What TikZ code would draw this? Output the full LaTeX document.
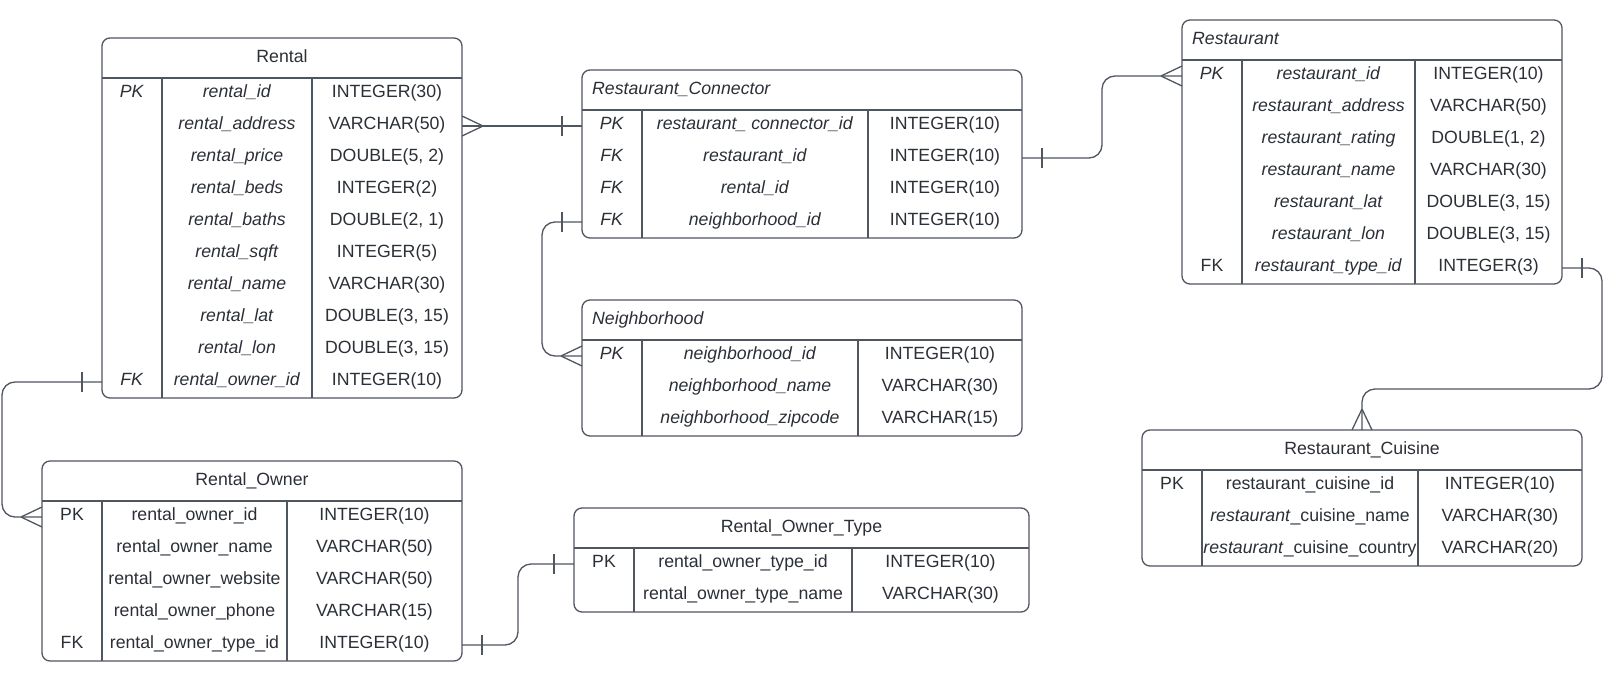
\documentclass[tikz,border=0pt]{standalone}
\usepackage{fontspec}
\setmainfont{Liberation Sans}
\definecolor{lc}{HTML}{50565F}
\definecolor{tc}{HTML}{2B2F36}
\tikzset{
  tbl/.style={draw=lc, line width=1.3pt, rounded corners=8pt, rectangle, inner sep=0pt, outer sep=0pt, anchor=north west},
  tline/.style={draw=lc, line width=1.3pt},
  conn/.style={draw=lc, line width=1.3pt},
  elbow/.style={conn, rounded corners=13pt},
  cell/.style={anchor=base, inner sep=0pt, text=tc, font=\fontsize{17.7}{20}\selectfont},
  ttlw/.style={cell, anchor=base west},
}
% #1 name, #2 key x, #3 name x, #4 type x, #5 header-line y, #6 rows
\newcommand\ERrows[6]{%
  \foreach \k/\n/\t [count=\i from 0] in {#6} {
    \coordinate (#1-row\i) at (#3, #5+16+32*\i);
    \node[cell] (#1-k\i) at (#2, #5+19.5+32*\i) {\k};
    \node[cell] (#1-n\i) at (#3, #5+19.5+32*\i) {\n};
    \node[cell] (#1-t\i) at (#4, #5+19.5+32*\i) {\t};
  }}
\newcommand\crowR[1]{\draw[conn] (#1) ++(21,0) -- ++(-21,-10) (#1) ++(21,0) -- ++(-21,10);}
\newcommand\crowL[1]{\draw[conn] (#1) ++(-21,0) -- ++(21,-10) (#1) ++(-21,0) -- ++(21,10);}
\newcommand\crowU[1]{\draw[conn] (#1) ++(0,-21) -- ++(-10,21) (#1) ++(0,-21) -- ++(10,21);}
\newcommand\barR[1]{\draw[conn] (#1) ++(20,-10) -- ++(0,20);}
\newcommand\barL[1]{\draw[conn] (#1) ++(-20,-10) -- ++(0,20);}
\begin{document}
\begin{tikzpicture}[x=1pt,y=-1pt]
\useasboundingbox (0,0) rectangle (1604,680);

% ---------- Rental ----------
\node[tbl, minimum width=360pt, minimum height=360pt] (rental) at (102,38) {};
\draw[tline] (102,78) -- (462,78);
\draw[tline] (162,78) -- (162,398);
\draw[tline] (312,78) -- (312,398);
\node[cell] (rental-title) at (282,62) {Rental};
\ERrows{rental}{132}{237}{387}{78}{
 {\textit{PK}}/{\textit{rental\_id}}/{INTEGER(30)},
 {}/{\textit{rental\_address}}/{VARCHAR(50)},
 {}/{\textit{rental\_price}}/{DOUBLE(5, 2)},
 {}/{\textit{rental\_beds}}/{INTEGER(2)},
 {}/{\textit{rental\_baths}}/{DOUBLE(2, 1)},
 {}/{\textit{rental\_sqft}}/{INTEGER(5)},
 {}/{\textit{rental\_name}}/{VARCHAR(30)},
 {}/{\textit{rental\_lat}}/{DOUBLE(3, 15)},
 {}/{\textit{rental\_lon}}/{DOUBLE(3, 15)},
 {\textit{FK}}/{\textit{rental\_owner\_id}}/{INTEGER(10)}}

% ---------- Rental_Owner ----------
\node[tbl, minimum width=420pt, minimum height=200pt] (rowner) at (42,461) {};
\draw[tline] (42,501) -- (462,501);
\draw[tline] (102,501) -- (102,661);
\draw[tline] (287,501) -- (287,661);
\node[cell] (rowner-title) at (252,485) {Rental\_Owner};
\ERrows{rowner}{72}{194.5}{374.5}{501}{
 {PK}/{rental\_owner\_id}/{INTEGER(10)},
 {}/{rental\_owner\_name}/{VARCHAR(50)},
 {}/{rental\_owner\_website}/{VARCHAR(50)},
 {}/{rental\_owner\_phone}/{VARCHAR(15)},
 {FK}/{rental\_owner\_type\_id}/{INTEGER(10)}}

% ---------- Restaurant_Connector ----------
\node[tbl, minimum width=440pt, minimum height=168pt] (rconn) at (582,70) {};
\draw[tline] (582,110) -- (1022,110);
\draw[tline] (642,110) -- (642,238);
\draw[tline] (868,110) -- (868,238);
\node[ttlw] (rconn-title) at (592,94) {\textit{Restaurant\_Connector}};
\ERrows{rconn}{612}{755}{945}{110}{
 {\textit{PK}}/{\textit{restaurant\_ connector\_id}}/{INTEGER(10)},
 {\textit{FK}}/{\textit{restaurant\_id}}/{INTEGER(10)},
 {\textit{FK}}/{\textit{rental\_id}}/{INTEGER(10)},
 {\textit{FK}}/{\textit{neighborhood\_id}}/{INTEGER(10)}}

% ---------- Neighborhood ----------
\node[tbl, minimum width=440pt, minimum height=136pt] (neigh) at (582,300) {};
\draw[tline] (582,340) -- (1022,340);
\draw[tline] (642,340) -- (642,436);
\draw[tline] (858,340) -- (858,436);
\node[ttlw] (neigh-title) at (592,324) {\textit{Neighborhood}};
\ERrows{neigh}{612}{750}{940}{340}{
 {\textit{PK}}/{\textit{neighborhood\_id}}/{INTEGER(10)},
 {}/{\textit{neighborhood\_name}}/{VARCHAR(30)},
 {}/{\textit{neighborhood\_zipcode}}/{VARCHAR(15)}}

% ---------- Rental_Owner_Type ----------
\node[tbl, minimum width=455pt, minimum height=104pt] (rotype) at (574,508) {};
\draw[tline] (574,548) -- (1029,548);
\draw[tline] (634,548) -- (634,612);
\draw[tline] (852,548) -- (852,612);
\node[cell] (rotype-title) at (801.5,532) {Rental\_Owner\_Type};
\ERrows{rotype}{604}{743}{940.5}{548}{
 {PK}/{rental\_owner\_type\_id}/{INTEGER(10)},
 {}/{rental\_owner\_type\_name}/{VARCHAR(30)}}

% ---------- Restaurant ----------
\node[tbl, minimum width=380pt, minimum height=264pt] (rest) at (1182,20) {};
\draw[tline] (1182,60) -- (1562,60);
\draw[tline] (1242,60) -- (1242,284);
\draw[tline] (1415,60) -- (1415,284);
\node[ttlw] (rest-title) at (1192,44) {\textit{Restaurant}};
\ERrows{rest}{1212}{1328.5}{1488.5}{60}{
 {\textit{PK}}/{\textit{restaurant\_id}}/{INTEGER(10)},
 {}/{\textit{restaurant\_address}}/{VARCHAR(50)},
 {}/{\textit{restaurant\_rating}}/{DOUBLE(1, 2)},
 {}/{\textit{restaurant\_name}}/{VARCHAR(30)},
 {}/{\textit{restaurant\_lat}}/{DOUBLE(3, 15)},
 {}/{\textit{restaurant\_lon}}/{DOUBLE(3, 15)},
 {FK}/{\textit{restaurant\_type\_id}}/{INTEGER(3)}}

% ---------- Restaurant_Cuisine ----------
\node[tbl, minimum width=440pt, minimum height=136pt] (rcuis) at (1142,430) {};
\draw[tline] (1142,470) -- (1582,470);
\draw[tline] (1202,470) -- (1202,566);
\draw[tline] (1418,470) -- (1418,566);
\node[cell] (rcuis-title) at (1362,454) {Restaurant\_Cuisine};
\ERrows{rcuis}{1172}{1310}{1500}{470}{
 {PK}/{restaurant\_cuisine\_id}/{INTEGER(10)},
 {}/{\textit{restaurant}\_cuisine\_name}/{VARCHAR(30)},
 {}/{\textit{restaurant}\_cuisine\_country}/{VARCHAR(20)}}

% ---------- connectors ----------
% Rental -> Restaurant_Connector
\coordinate (eA1) at (rental.east |- rental-row1);
\coordinate (eA2) at (rconn.west |- rconn-row0);
\draw[conn] (eA1) -- (eA2);
\crowR{eA1}
\barL{eA2}

% Rental FK -> Rental_Owner PK
\coordinate (eB1) at (rental.west |- rental-row9);
\coordinate (eB2) at (rowner.west |- rowner-row0);
\coordinate (xB) at (2,0);
\draw[elbow] (eB1) -| (xB |- eB2) -- (eB2);
\barL{eB1}
\crowL{eB2}

% Rental_Owner FK -> Rental_Owner_Type PK
\coordinate (eC1) at (rowner.east |- rowner-row4);
\coordinate (eC2) at (rotype.west |- rotype-row0);
\coordinate (xC) at (518,0);
\draw[elbow] (eC1) -| (xC |- eC2) -- (eC2);
\barR{eC1}
\barL{eC2}

% Restaurant_Connector FK -> Neighborhood PK
\coordinate (eD1) at (rconn.west |- rconn-row3);
\coordinate (eD2) at (neigh.west |- neigh-row0);
\coordinate (xD) at (542,0);
\draw[elbow] (eD1) -| (xD |- eD2) -- (eD2);
\barL{eD1}
\crowL{eD2}

% Restaurant_Connector FK -> Restaurant PK
\coordinate (eE1) at (rconn.east |- rconn-row1);
\coordinate (eE2) at (rest.west |- rest-row0);
\coordinate (xE) at (1102,0);
\draw[elbow] (eE1) -| (xE |- eE2) -- (eE2);
\barR{eE1}
\crowL{eE2}

% Restaurant FK -> Restaurant_Cuisine
\coordinate (eF1) at (rest.east |- rest-row6);
\coordinate (eF2) at (rcuis.north);
\coordinate (xF) at (1602,389);
\draw[elbow] (eF1) -| (xF) -| (eF2);
\barR{eF1}
\crowU{eF2}
\end{tikzpicture}
\end{document}
